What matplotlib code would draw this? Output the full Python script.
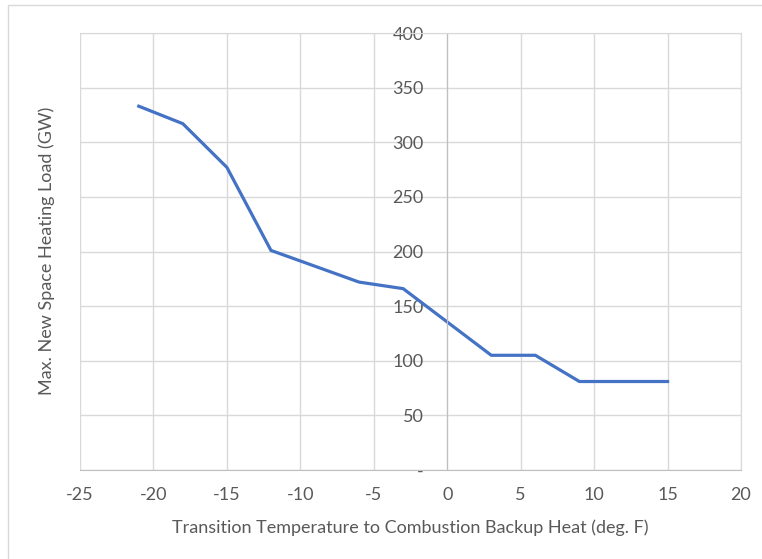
import matplotlib.pyplot as plt
from matplotlib.patches import Rectangle

# data (vertices of the line)
temps = [-21, -18, -15, -12, -6, -3, 3, 6, 9, 15]
load_gw = [333, 317, 277, 201, 172, 166, 105, 105, 81, 81]

x_ticks = [-25, -20, -15, -10, -5, 0, 5, 10, 15, 20]
y_ticks = [50, 100, 150, 200, 250, 300, 350, 400]

plt.rcParams['font.family'] = ['Lato', 'DejaVu Sans']
plt.rcParams['axes.unicode_minus'] = False
text_col = '#595959'
grid_col = '#D9D9D9'
fs = 13

W, H = 762, 559
fig = plt.figure(figsize=(W / 100, H / 100), dpi=100)
ax = fig.add_axes([80 / W, 1 - 470 / H, (741 - 80) / W, (470 - 33) / H])

ax.plot(temps, load_gw, color='#4472C4', lw=2.3, solid_joinstyle='miter')

ax.set_xlim(-25, 20)
ax.set_ylim(0, 400)
ax.set_xticks(x_ticks)
ax.set_xticklabels([str(v) for v in x_ticks])
ax.set_yticks([0] + y_ticks)
ax.set_yticklabels(['-'] + [str(v) for v in y_ticks])
ax.grid(True, color=grid_col, lw=1)
ax.set_axisbelow(True)

for s in ['top', 'right']:
    ax.spines[s].set_color(grid_col)
ax.spines['bottom'].set_color('#BFBFBF')
ax.spines['left'].set_position(('data', 0))
ax.spines['left'].set_color('#BFBFBF')

ax.tick_params(axis='both', length=0, labelsize=fs, labelcolor=text_col)
ax.tick_params(axis='x', pad=12.5)
ax.tick_params(axis='y', pad=17)

fig.text(410 / W, 1 - 528 / H,
         'Transition Temperature to Combustion Backup Heat (deg. F)',
         ha='center', va='center', fontsize=fs, color=text_col)
fig.text(47 / W, 1 - 251 / H, 'Max. New Space Heating Load (GW)',
         ha='center', va='center', rotation=90, fontsize=fs, color=text_col)

# chart area border
fig.patches.append(Rectangle((8 / W, -0.1), 1.2, 1 - 5 / H + 0.1,
                             transform=fig.transFigure, fill=False,
                             edgecolor=grid_col, lw=1))

fig.savefig('out.png', dpi=100)
